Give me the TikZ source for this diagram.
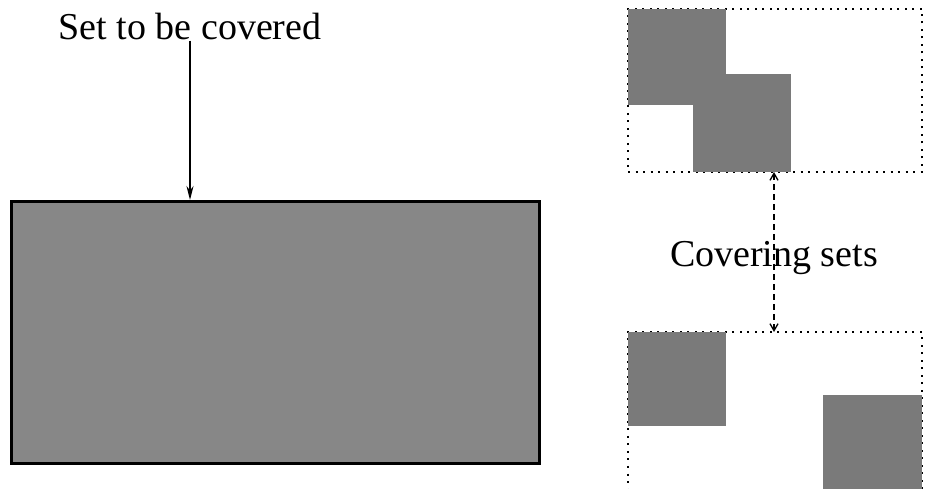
\documentclass[tikz,border=0pt]{standalone}
\usepackage{fontspec}
\setmainfont{Liberation Serif}
\usetikzlibrary{arrows.meta}
\begin{document}
\begin{tikzpicture}
                [
                x=1pt,y=-1pt,
                caption/.style={font=\fontsize{38}{40}\selectfont,inner sep=0pt,anchor=base},
                patch/.style={fill=black!52,inner sep=0pt,outer sep=0pt,anchor=north west},
                coverbox/.style={draw,line width=1.8pt,dash pattern=on 2pt off 5.5pt,inner sep=0pt,outer sep=0pt,anchor=north west,minimum width=294pt,minimum height=163pt},
                edge/.style={-{Stealth[length=14pt,width=7pt]},line width=1.6pt},
                link/.style={{Straight Barb[length=7pt,width=8pt]}-{Straight Barb[length=7pt,width=8pt]},line width=1.3pt,dash pattern=on 6pt off 4pt}
                ]
            \useasboundingbox (0,0) rectangle (930,489);
            % set to be covered
            \node[caption] (settext) at (190,40) {Set to be covered};
            \node[draw,line width=3pt,fill=black!47,inner sep=0pt,anchor=north west,minimum width=528pt,minimum height=262pt] (bigset) at (10,200) {};
            \draw[edge] (settext.south) -- (settext.south |- bigset.north);
            % covering sets
            \node[coverbox] (topbox) at (628,9) {};
            \node[patch,minimum width=98pt,minimum height=96pt] (a1) at (628,9) {};
            \node[patch,minimum width=98pt,minimum height=98pt] (a2) at (693,74) {};
            \node[coverbox] (botbox) at (628,332) {};
            \node[patch,minimum width=98pt,minimum height=94pt] (b1) at (628,332) {};
            \node[patch,minimum width=99pt,minimum height=100pt] (b2) at (823,395) {};
            \coordinate (linktop) at (774,172);
            \coordinate (linkbot) at (774,332);
            \draw[link] (linktop) -- (linkbot);
            \node[caption] (covtext) at (774,267) {Covering sets};
\end{tikzpicture}
\end{document}
